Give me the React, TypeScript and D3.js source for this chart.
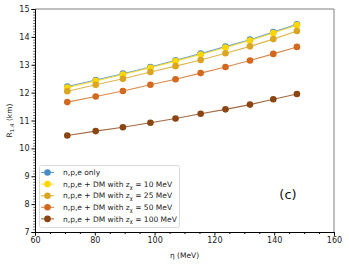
import { useEffect, useRef } from 'react';
import * as d3 from 'd3';

const eta = [70.8, 80.3, 89.4, 98.6, 107.0, 115.4, 123.7, 131.9, 139.7, 147.6];
const npeOnly = [12.22, 12.45, 12.68, 12.92, 13.16, 13.40, 13.65, 13.90, 14.17, 14.45];
const dm10 = [12.18, 12.42, 12.65, 12.89, 13.13, 13.37, 13.62, 13.87, 14.14, 14.42];
const dm25 = [12.05, 12.28, 12.50, 12.74, 12.95, 13.17, 13.41, 13.66, 13.92, 14.21];
const dm50 = [11.66, 11.86, 12.06, 12.28, 12.48, 12.70, 12.92, 13.15, 13.39, 13.64];
const dm100 = [10.46, 10.62, 10.76, 10.92, 11.07, 11.24, 11.40, 11.57, 11.76, 11.95];

const seriesNames = ['npe', 'dm10', 'dm25', 'dm50', 'dm100'];
const seriesColors = ['#4a8cc4', '#ffd700', '#daa520', '#d2691e', '#8b4513'];
const xTicks = [60, 80, 100, 120, 140, 160];
const yTicks = [7, 8, 9, 10, 11, 12, 13, 14, 15];

const App = () => {
  const svgRef = useRef<SVGSVGElement | null>(null);

  useEffect(() => {
    if (!svgRef.current) return;
    const width = 349;
    const height = 266;
    const svg = d3.select(svgRef.current);
    svg.selectAll('*').remove();

    const left = 35, right = 334, top = 9, bottom = 232;
    const x = d3.scaleLinear().domain([60, 160]).range([left, right]);
    const y = d3.scaleLinear().domain([7, 15]).range([bottom, top]);
    const font = 'DejaVu Sans, sans-serif';

    const allSeries = [npeOnly, dm10, dm25, dm50, dm100];

    // frame
    svg.append('line').attr('x1', left).attr('x2', right).attr('y1', top).attr('y2', top)
      .attr('stroke', '#808080').attr('stroke-width', 1);
    svg.append('line').attr('x1', right).attr('x2', right).attr('y1', top).attr('y2', bottom)
      .attr('stroke', '#808080').attr('stroke-width', 1);

    // lines and points
    allSeries.forEach((vals, i) => {
      const pts = eta.map((e, j) => [e, vals[j]] as [number, number]);
      const line = d3.line<[number, number]>().x(d => x(d[0])).y(d => y(d[1]));
      svg.append('path')
        .attr('d', line(pts) || '')
        .attr('fill', 'none')
        .attr('stroke', seriesColors[i])
        .attr('stroke-opacity', 0.8)
        .attr('stroke-width', 1.1);
      svg.append('g').attr('class', seriesNames[i])
        .selectAll('circle')
        .data(pts)
        .enter()
        .append('circle')
        .attr('cx', d => x(d[0]))
        .attr('cy', d => y(d[1]))
        .attr('r', 3.3)
        .attr('fill', seriesColors[i]);
    });

    // x axis
    const xAxis = svg.append('g').attr('transform', `translate(0,${bottom})`)
      .call(d3.axisBottom(x).tickValues(xTicks).tickSize(3.5).tickPadding(2).tickFormat(d3.format('d')));
    xAxis.select('.domain').attr('stroke', '#000');
    xAxis.selectAll('text').attr('font-family', font).attr('font-size', 8).attr('fill', '#222');
    svg.append('g').attr('transform', `translate(0,${bottom})`)
      .call(d3.axisBottom(x).tickValues(d3.range(60, 161, 5).filter(v => v % 20 !== 0)).tickSize(2).tickFormat(() => ''))
      .call(g => g.select('.domain').remove());

    // y axis
    const yAxis = svg.append('g').attr('transform', `translate(${left},0)`)
      .call(d3.axisLeft(y).tickValues(yTicks).tickSize(3.5).tickPadding(2).tickFormat(d3.format('d')));
    yAxis.select('.domain').attr('stroke', '#000');
    yAxis.selectAll('text').attr('font-family', font).attr('font-size', 8).attr('fill', '#222');
    svg.append('g').attr('transform', `translate(${left},0)`)
      .call(d3.axisLeft(y).tickValues(d3.range(70, 151, 1).filter(v => v % 10 !== 0).map(v => v / 10)).tickSize(1.8).tickFormat(() => ''))
      .call(g => g.select('.domain').remove())
      .selectAll('line').attr('stroke-width', 0.6);

    // axis labels
    svg.append('text')
      .attr('x', (left + right) / 2).attr('y', 258)
      .attr('text-anchor', 'middle')
      .attr('font-family', font).attr('font-size', 7.5).attr('fill', '#222')
      .text('η (MeV)');
    const yl = svg.append('text')
      .attr('transform', `translate(12,${(top + bottom) / 2}) rotate(-90)`)
      .attr('text-anchor', 'middle')
      .attr('font-family', font).attr('font-size', 7.5).attr('fill', '#222');
    yl.append('tspan').text('R');
    yl.append('tspan').attr('font-size', 5.5).attr('dy', 2).text('1.4');
    yl.append('tspan').attr('dy', -2).text(' (km)');

    // panel label
    svg.append('text')
      .attr('x', 288).attr('y', 199)
      .attr('text-anchor', 'middle')
      .attr('font-family', font).attr('font-size', 13).attr('fill', '#111')
      .text('(c)');

    // legend
    const lg = svg.append('g');
    lg.append('rect')
      .attr('x', 39.5).attr('y', 165.5).attr('width', 140).attr('height', 62)
      .attr('rx', 2)
      .attr('fill', '#fff').attr('fill-opacity', 0.85)
      .attr('stroke', '#d0d0d0').attr('stroke-width', 0.8);
    const labels = ['10', '25', '50', '100'];
    seriesNames.forEach((_, i) => {
      const ly = 172.5 + i * 11.6;
      lg.append('line').attr('x1', 41).attr('x2', 54).attr('y1', ly).attr('y2', ly)
        .attr('stroke', seriesColors[i]).attr('stroke-opacity', 0.8).attr('stroke-width', 1.1);
      lg.append('circle').attr('cx', 47.5).attr('cy', ly).attr('r', 3.3).attr('fill', seriesColors[i]);
      const t = lg.append('text').attr('x', 63).attr('y', ly + 2.6)
        .attr('font-family', font).attr('font-size', 7.5).attr('fill', '#222');
      if (i === 0) {
        t.text('n,p,e only');
      } else {
        t.append('tspan').text('n,p,e + DM with z');
        t.append('tspan').attr('font-size', 5.2).attr('dy', 1.8).text('χ');
        t.append('tspan').attr('dy', -1.8).text(` = ${labels[i - 1]} MeV`);
      }
    });

    svg.attr('width', width).attr('height', height);
  }, []);

  return (
    <svg ref={svgRef} width={349} height={266} style={{ position: 'absolute', left: 0, top: 0 }}></svg>
  );
};

export default App;
